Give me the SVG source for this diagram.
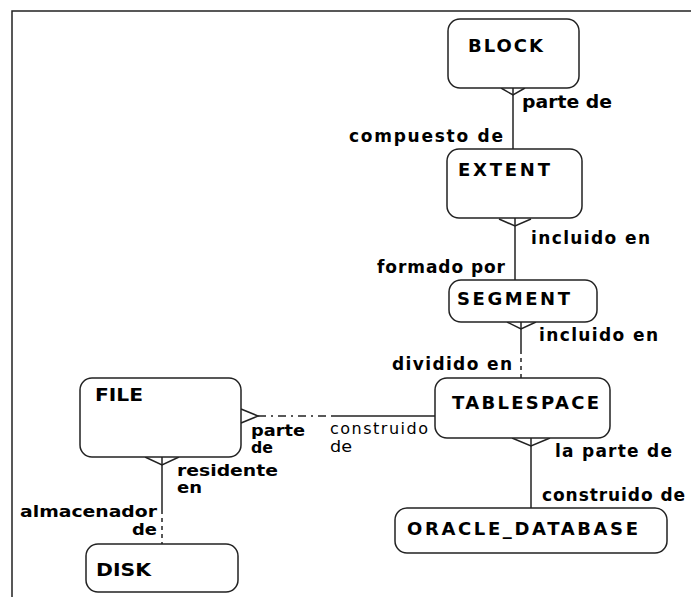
<svg xmlns="http://www.w3.org/2000/svg" width="691" height="597" viewBox="0 0 691 597">
<style>
.n{fill:#fff;stroke:#222;stroke-width:1.5}
.t{font-family:"DejaVu Sans",Verdana,sans-serif;font-weight:bold;font-size:18px;fill:#000}
.l{font-family:"DejaVu Sans",Verdana,sans-serif;font-weight:bold;font-size:17px;fill:#000}
.s{font-family:"DejaVu Sans",Verdana,sans-serif;font-weight:bold;font-size:16px;fill:#000}
.r{font-family:"DejaVu Sans",Verdana,sans-serif;font-weight:normal;font-size:16px;fill:#000}
.c{stroke:#222;stroke-width:1.5;fill:none}
.d{stroke:#222;stroke-width:1.5;fill:none;stroke-dasharray:4 4}
.dd{stroke:#222;stroke-width:1.5;fill:none;stroke-dasharray:8 5 2 5}
</style>
<rect x="0" y="0" width="691" height="597" fill="#fff"/>
<path d="M12 597V11H691" fill="none" stroke="#222" stroke-width="1.5"/>
<g id="connectors">
<g id="c-block-extent">
<line class="c" x1="513" y1="88" x2="513" y2="149"/>
<path class="c" d="M501 88L513 95L525 88"/>
<text class="l" x="522" y="108" textLength="90" lengthAdjust="spacingAndGlyphs">parte de</text>
<text class="l" x="349" y="142" textLength="154" lengthAdjust="spacing">compuesto de</text>
</g>
<g id="c-extent-segment">
<line class="c" x1="515" y1="218" x2="515" y2="280"/>
<path class="c" d="M499 219L515 226L531 219"/>
<text class="l" x="531" y="244" textLength="119" lengthAdjust="spacing">incluido en</text>
<text class="l" x="377" y="273" textLength="128" lengthAdjust="spacing">formado por</text>
</g>
<g id="c-segment-tablespace">
<line class="c" x1="521" y1="322" x2="521" y2="350"/>
<line class="d" x1="521" y1="350" x2="521" y2="378"/>
<path class="c" d="M507 322L521 329L536 322"/>
<text class="l" x="539" y="341" textLength="119" lengthAdjust="spacing">incluido en</text>
<text class="l" x="392" y="370" textLength="120" lengthAdjust="spacing">dividido en</text>
</g>
<g id="c-tablespace-oracle">
<line class="c" x1="531" y1="438" x2="531" y2="508"/>
<path class="c" d="M512 438L531 446L550 438"/>
<text class="l" x="555" y="457" textLength="117" lengthAdjust="spacing">la parte de</text>
<text class="l" x="542" y="501" textLength="143" lengthAdjust="spacing">construido de</text>
</g>
<g id="c-file-tablespace">
<line class="dd" x1="258" y1="416" x2="333" y2="416"/>
<line class="c" x1="333" y1="416" x2="435" y2="416"/>
<path class="c" d="M241 409L258 416L241 423"/>
<text class="s" x="251" y="436" textLength="54" lengthAdjust="spacingAndGlyphs">parte</text>
<text class="s" x="251" y="453" textLength="22" lengthAdjust="spacingAndGlyphs">de</text>
<text class="r" x="330" y="434" textLength="98" lengthAdjust="spacing">construido</text>
<text class="r" x="330" y="452" textLength="22" lengthAdjust="spacingAndGlyphs">de</text>
</g>
<g id="c-file-disk">
<line class="c" x1="162" y1="457" x2="162" y2="510"/>
<line class="d" x1="162" y1="510" x2="162" y2="544"/>
<path class="c" d="M145 457L162 465L179 457"/>
<text class="s" x="177" y="476" textLength="101" lengthAdjust="spacingAndGlyphs">residente</text>
<text class="s" x="177" y="493" textLength="25" lengthAdjust="spacingAndGlyphs">en</text>
<text class="s" x="20" y="517" textLength="137" lengthAdjust="spacingAndGlyphs">almacenador</text>
<text class="s" x="132" y="535" textLength="25" lengthAdjust="spacingAndGlyphs">de</text>
</g>
</g>
<g id="BLOCK"><rect class="n" x="448" y="19" width="131" height="69" rx="12"/><text class="t" x="468" y="52" textLength="75" lengthAdjust="spacing">BLOCK</text></g>
<g id="EXTENT"><rect class="n" x="447" y="149" width="135" height="69" rx="12"/><text class="t" x="458" y="176" textLength="92" lengthAdjust="spacing">EXTENT</text></g>
<g id="SEGMENT"><rect class="n" x="449" y="280" width="148" height="42" rx="12"/><text class="t" x="457" y="305" textLength="113" lengthAdjust="spacing">SEGMENT</text></g>
<g id="TABLESPACE"><rect class="n" x="435" y="378" width="175" height="60" rx="12"/><text class="t" x="452" y="409" textLength="147" lengthAdjust="spacing">TABLESPACE</text></g>
<g id="FILE"><rect class="n" x="80" y="378" width="161" height="79" rx="12"/><text class="t" x="95" y="401" textLength="48" lengthAdjust="spacingAndGlyphs">FILE</text></g>
<g id="DISK"><rect class="n" x="86" y="544" width="152" height="48" rx="12"/><text class="t" x="96" y="576" textLength="55" lengthAdjust="spacingAndGlyphs">DISK</text></g>
<g id="ORACLE_DATABASE"><rect class="n" x="395" y="508" width="272" height="45" rx="12"/><text class="t" x="407" y="535" textLength="231" lengthAdjust="spacing">ORACLE_DATABASE</text></g>
</svg>
